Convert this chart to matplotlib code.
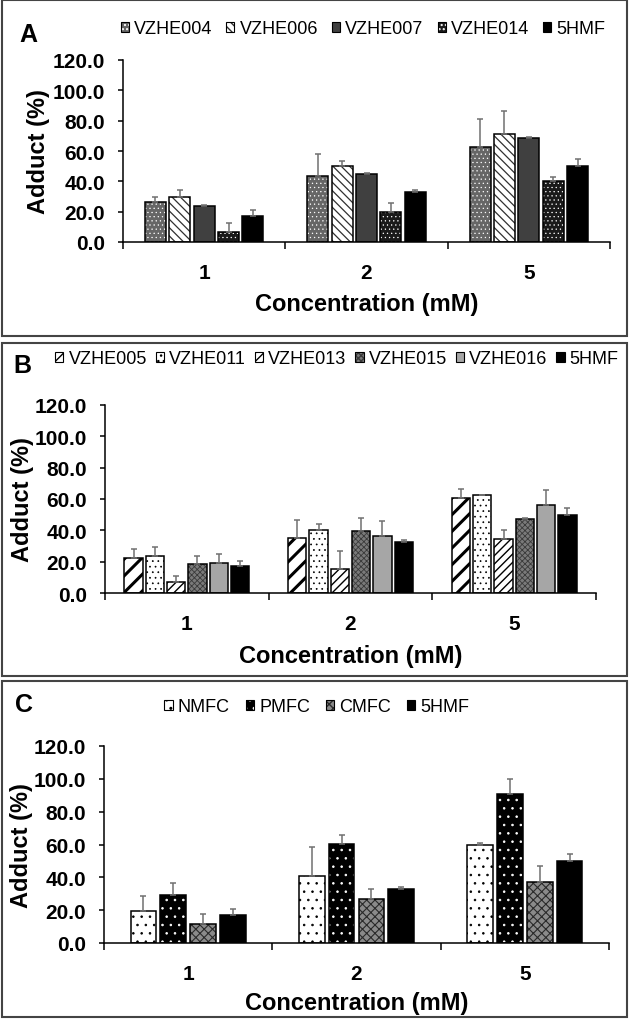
import numpy as np
import matplotlib
matplotlib.use('Agg')
import matplotlib.pyplot as plt
from matplotlib.patches import Patch, Rectangle

plt.rcParams['font.family'] = ['Liberation Sans', 'DejaVu Sans']
plt.rcParams['hatch.linewidth'] = 1.0

W, H = 629, 1020

conc = ['1', '2', '5']

# Panel A
a_names = ['VZHE004', 'VZHE006', 'VZHE007', 'VZHE014', '5HMF']
a_means = [[26.4, 43.5, 62.9],
           [29.9, 50.1, 71.0],
           [23.5, 44.6, 68.4],
           [6.8, 19.6, 40.2],
           [17.4, 33.0, 50.1]]
a_errs = [[3.1, 14.5, 18.2],
          [4.6, 3.1, 15.4],
          [0.9, 0.9, 0.9],
          [5.9, 6.4, 2.9],
          [3.5, 1.3, 4.4]]

# Panel B
b_names = ['VZHE005', 'VZHE011', 'VZHE013', 'VZHE015', 'VZHE016', '5HMF']
b_means = [[22.3, 35.1, 60.4],
           [23.4, 40.0, 62.3],
           [6.8, 15.5, 34.5],
           [18.7, 39.4, 47.2],
           [19.1, 36.2, 56.4],
           [17.0, 32.8, 50.0]]
b_errs = [[5.7, 11.7, 5.7],
          [5.7, 3.8, 0.3],
          [4.3, 11.5, 6.0],
          [4.9, 8.3, 0.6],
          [6.0, 9.8, 9.6],
          [3.6, 1.3, 4.0]]

# Panel C
c_names = ['NMFC', 'PMFC', 'CMFC', '5HMF']
c_means = [[19.7, 40.7, 59.8],
           [29.5, 60.4, 90.7],
           [11.6, 26.8, 37.0],
           [17.3, 32.9, 50.2]]
c_errs = [[8.7, 17.7, 1.4],
          [6.9, 5.3, 8.9],
          [6.3, 6.3, 9.6],
          [3.7, 1.4, 4.3]]

# fill, hatch, hatch colour, hatch linewidth
styles = {
    'VZHE004': ('#666666', '....', 'white', 0.4),
    'VZHE006': ('white', '\\\\\\\\', '#303030', 0.9),
    'VZHE007': ('#404040', None, '#404040', 1.0),
    'VZHE014': ('#1a1a1a', '....', 'white', 0.4),
    '5HMF': ('black', None, 'black', 1.0),
    'VZHE005': ('white', '//', 'black', 2.2),
    'VZHE011': ('white', '...', 'black', 0.5),
    'VZHE013': ('white', '////', 'black', 1.0),
    'VZHE015': ('#7a7a7a', 'xxxxxx', '#3a3a3a', 0.6),
    'VZHE016': ('#a6a6a6', None, '#a6a6a6', 1.0),
    'NMFC': ('white', '..', 'black', 0.6),
    'PMFC': ('black', '..', 'white', 0.6),
    'CMFC': ('#8a8a8a', 'xxxx', '#2a2a2a', 0.8),
}


def fill_patch(name, **kw):
    face, hatch, hcol, hlw = styles[name]
    with plt.rc_context({'hatch.linewidth': hlw}):
        p = Patch(facecolor=face, edgecolor=hcol, hatch=hatch, linewidth=0, **kw)
    if hasattr(p, 'set_hatch_linewidth'):
        p.set_hatch_linewidth(hlw)
    return p


def draw_panel(ax, names, means, errs, width, step):
    x = np.arange(len(conc))
    n = len(names)
    for i, name in enumerate(names):
        pos = x + (i - (n - 1) / 2) * step
        face, hatch, hcol, hlw = styles[name]
        with plt.rc_context({'hatch.linewidth': hlw}):
            bars = ax.bar(pos, means[i], width, color=face, edgecolor=hcol,
                          hatch=hatch, linewidth=0, zorder=2)
        for b in bars:
            if hasattr(b, 'set_hatch_linewidth'):
                b.set_hatch_linewidth(hlw)
        ax.bar(pos, means[i], width, fill=False, edgecolor='black',
               linewidth=1.1, zorder=3)
        ax.errorbar(pos, means[i], yerr=[np.zeros(len(conc)), errs[i]],
                    fmt='none', ecolor='#707070', elinewidth=1.1,
                    capsize=2.5, capthick=1.1, zorder=4)

    ax.set_xlim(-0.5, 2.5)
    ax.set_ylim(0, 120)
    yt = np.arange(0, 121, 20)
    ax.set_yticks(yt, labels=[f'{v:.1f}' for v in yt], fontsize=15,
                  fontweight='bold')
    ax.set_xticks([-0.5, 0.5, 1.5, 2.5], labels=[])
    ax.set_xticks(x, minor=True)
    ax.set_xticklabels(conc, minor=True, fontsize=15, fontweight='bold')
    ax.tick_params(axis='x', which='major', length=5, width=1.1)
    ax.tick_params(axis='x', which='minor', length=0, pad=15)
    ax.tick_params(axis='y', length=3.3, width=1.1, pad=9.5)
    for s in ['top', 'right']:
        ax.spines[s].set_visible(False)
    for s in ['left', 'bottom']:
        ax.spines[s].set_linewidth(1.1)
    ax.set_ylabel('Adduct (%)', fontsize=17, fontweight='bold')
    ax.set_xlabel('Concentration (mM)', fontsize=17, fontweight='bold')
    ax.yaxis.label.set_va('center')
    ax.xaxis.label.set_va('center')


def axes_px(fig, left, right, y0, y120):
    return fig.add_axes([left / W, (H - y0) / H, (right - left) / W, (y0 - y120) / H])


fig = plt.figure(figsize=(W / 100, H / 100), dpi=100)

# panel frames
for top, bot in [(1, 337), (344, 677), (682, 1018)]:
    fig.patches.append(Rectangle((2 / W, 1 - bot / H), 625 / W, (bot - top) / H,
                                 transform=fig.transFigure, fill=False,
                                 edgecolor='#444444', linewidth=1.5))

panels = [
    ('A', a_names, a_means, a_errs, 0.13, 0.15, (123, 610, 243, 61),
     38, 61, (19, 35), (363, 30), 0.78),
    ('B', b_names, b_means, b_errs, 0.112, 0.13, (105, 596, 594, 406),
     23, 63, (13, 366), (337, 360), 0.5),
    ('C', c_names, c_means, c_errs, 0.153, 0.177, (104, 609, 944, 747),
     22, 60, (15, 705), (317, 708), 0.9),
]

for letter, names, means, errs, wd, st, box, ylx, xly, lpos, legpos, colsp in panels:
    left, right, y0, y120 = box
    ax = axes_px(fig, left, right, y0, y120)
    draw_panel(ax, names, means, errs, wd, st)
    ax.yaxis.set_label_coords((ylx - left) / (right - left), 0.5)
    ax.xaxis.set_label_coords(0.5, -xly / (y0 - y120))

    handles = [(fill_patch(nm), Patch(fill=False, edgecolor='black', linewidth=0.8))
               for nm in names]
    fig.legend(handles, names, loc='center',
               bbox_to_anchor=(legpos[0] / W, 1 - legpos[1] / H),
               ncol=len(names), frameon=False, fontsize=13,
               handlelength=0.45, handleheight=0.45, handletextpad=0.28,
               columnspacing=colsp, borderpad=0, borderaxespad=0)
    fig.text(lpos[0] / W, 1 - lpos[1] / H, letter, fontsize=18,
             fontweight='bold', ha='left', va='center')

fig.savefig('out.png', dpi=100)
